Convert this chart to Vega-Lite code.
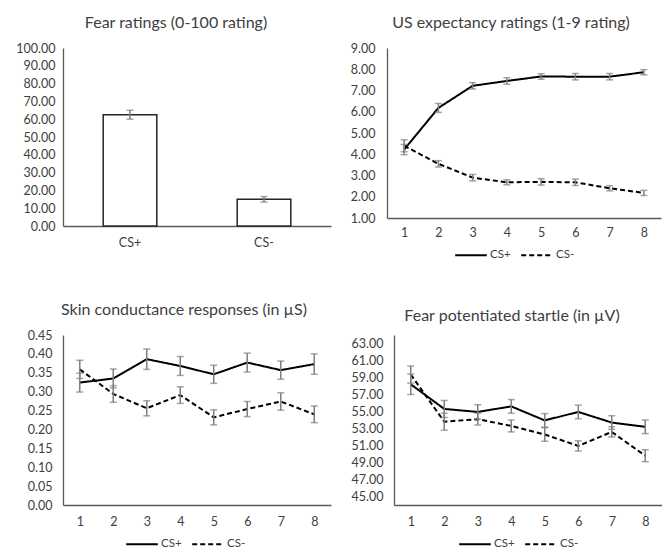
{
  "$schema": "https://vega.github.io/schema/vega-lite/v6.json",
  "background": "white",
  "padding": {"left": 0, "top": 15, "right": 0, "bottom": 0},
  "config": {
    "font": "Lato",
    "view": {"stroke": null},
    "title": {"fontSize": 16, "fontWeight": "normal", "color": "#404040", "offset": 11},
    "axis": {"labelFont": "Lato", "labelFontSize": 12.5, "labelColor": "#404040", "domainColor": "#595959", "domainWidth": 1.3, "ticks": false, "grid": false, "title": null, "labelOverlap": false, "labelFlush": false},
    "legend": {"labelFont": "Lato", "labelFontSize": 11.5, "labelColor": "#404040"}
  },
  "vconcat": [
    {
      "hconcat": [
        {
          "width": 268, "height": 178,
          "title": {"text": "Fear ratings (0-100 rating)", "dx": -21},
          "data": {"values": [
            {"stimulus": "CS+", "mean": 62.5, "lo": 60.0, "hi": 65.0},
            {"stimulus": "CS-", "mean": 15.0, "lo": 13.5, "hi": 16.5}
          ]},
          "encoding": {"x": {"field": "stimulus", "type": "nominal", "sort": null, "scale": {"paddingInner": 0.6, "paddingOuter": 0.3}, "axis": {"labelAngle": 0, "labelPadding": 10, "title": null}}},
          "layer": [
            {"mark": {"type": "bar", "fill": "white", "stroke": "#262626", "strokeWidth": 1.5},
             "encoding": {"y": {"field": "mean", "type": "quantitative", "scale": {"domain": [0, 100]}, "axis": {"title": null, "values": [0, 10, 20, 30, 40, 50, 60, 70, 80, 90, 100], "tickCount": 50, "format": ".2f", "labelPadding": 8, "minExtent": 63, "maxExtent": 63}}}},
            {"mark": {"type": "errorbar", "color": "#7f7f7f", "thickness": 1.5, "ticks": {"size": 7}},
             "encoding": {"y": {"field": "lo", "type": "quantitative", "title": null}, "y2": {"field": "hi"}}}
          ]
        },
        {
          "width": 274, "height": 170,
          "title": {"text": "US expectancy ratings (1-9 rating)", "dx": -13},
          "data": {"values": [
            {"trial": 1, "cs": "CS+", "mean": 4.22, "lo": 3.98, "hi": 4.46},
            {"trial": 2, "cs": "CS+", "mean": 6.18, "lo": 5.97, "hi": 6.39},
            {"trial": 3, "cs": "CS+", "mean": 7.22, "lo": 7.07, "hi": 7.37},
            {"trial": 4, "cs": "CS+", "mean": 7.45, "lo": 7.3, "hi": 7.6},
            {"trial": 5, "cs": "CS+", "mean": 7.66, "lo": 7.53, "hi": 7.79},
            {"trial": 6, "cs": "CS+", "mean": 7.65, "lo": 7.5, "hi": 7.8},
            {"trial": 7, "cs": "CS+", "mean": 7.65, "lo": 7.5, "hi": 7.8},
            {"trial": 8, "cs": "CS+", "mean": 7.86, "lo": 7.74, "hi": 7.98},
            {"trial": 1, "cs": "CS-", "mean": 4.4, "lo": 4.12, "hi": 4.68},
            {"trial": 2, "cs": "CS-", "mean": 3.55, "lo": 3.4, "hi": 3.7},
            {"trial": 3, "cs": "CS-", "mean": 2.9, "lo": 2.75, "hi": 3.05},
            {"trial": 4, "cs": "CS-", "mean": 2.68, "lo": 2.56, "hi": 2.8},
            {"trial": 5, "cs": "CS-", "mean": 2.7, "lo": 2.55, "hi": 2.85},
            {"trial": 6, "cs": "CS-", "mean": 2.68, "lo": 2.53, "hi": 2.83},
            {"trial": 7, "cs": "CS-", "mean": 2.4, "lo": 2.28, "hi": 2.52},
            {"trial": 8, "cs": "CS-", "mean": 2.18, "lo": 2.06, "hi": 2.3}
          ]},
          "encoding": {"x": {"field": "trial", "type": "ordinal", "scale": {"type": "point", "padding": 0.5}, "axis": {"labelAngle": 0, "labelPadding": 8, "title": null}}},
          "layer": [
            {"mark": {"type": "line", "color": "black", "strokeWidth": 2},
             "encoding": {
               "y": {"field": "mean", "type": "quantitative", "scale": {"domain": [1, 9]}, "axis": {"title": null, "values": [1, 2, 3, 4, 5, 6, 7, 8, 9], "tickCount": 50, "format": ".2f", "labelPadding": 12, "minExtent": 42, "maxExtent": 42}},
               "strokeDash": {"field": "cs", "type": "nominal", "scale": {"domain": ["CS+", "CS-"], "range": [[1, 0], [5, 3]]},
                 "legend": {"title": null, "orient": "none", "legendX": 67, "legendY": 190, "direction": "horizontal", "symbolType": "stroke", "symbolStrokeColor": "black", "symbolStrokeWidth": 2, "symbolSize": 1000, "labelOffset": 2, "columnPadding": 6}}}},
            {"mark": {"type": "errorbar", "color": "#7f7f7f", "thickness": 1.5, "ticks": {"size": 7}},
             "encoding": {"y": {"field": "lo", "type": "quantitative", "title": null}, "y2": {"field": "hi"}, "detail": {"field": "cs"}}}
          ]
        }
      ],
      "spacing": 14,
      "align": "none",
      "resolve": {"scale": {"strokeDash": "independent"}, "legend": {"strokeDash": "independent"}}
    },
    {
      "hconcat": [
        {
          "width": 268, "height": 170,
          "title": {"text": "Skin conductance responses (in µS)", "dx": -13},
          "data": {"values": [
            {"trial": 1, "cs": "CS+", "mean": 0.324, "lo": 0.299, "hi": 0.349},
            {"trial": 2, "cs": "CS+", "mean": 0.335, "lo": 0.31, "hi": 0.36},
            {"trial": 3, "cs": "CS+", "mean": 0.386, "lo": 0.359, "hi": 0.413},
            {"trial": 4, "cs": "CS+", "mean": 0.368, "lo": 0.343, "hi": 0.393},
            {"trial": 5, "cs": "CS+", "mean": 0.346, "lo": 0.322, "hi": 0.37},
            {"trial": 6, "cs": "CS+", "mean": 0.377, "lo": 0.352, "hi": 0.402},
            {"trial": 7, "cs": "CS+", "mean": 0.357, "lo": 0.333, "hi": 0.381},
            {"trial": 8, "cs": "CS+", "mean": 0.373, "lo": 0.346, "hi": 0.4},
            {"trial": 1, "cs": "CS-", "mean": 0.359, "lo": 0.335, "hi": 0.383},
            {"trial": 2, "cs": "CS-", "mean": 0.294, "lo": 0.272, "hi": 0.316},
            {"trial": 3, "cs": "CS-", "mean": 0.256, "lo": 0.236, "hi": 0.276},
            {"trial": 4, "cs": "CS-", "mean": 0.291, "lo": 0.269, "hi": 0.313},
            {"trial": 5, "cs": "CS-", "mean": 0.232, "lo": 0.212, "hi": 0.252},
            {"trial": 6, "cs": "CS-", "mean": 0.254, "lo": 0.234, "hi": 0.274},
            {"trial": 7, "cs": "CS-", "mean": 0.274, "lo": 0.251, "hi": 0.297},
            {"trial": 8, "cs": "CS-", "mean": 0.24, "lo": 0.218, "hi": 0.262}
          ]},
          "encoding": {"x": {"field": "trial", "type": "ordinal", "scale": {"type": "point", "padding": 0.5}, "axis": {"labelAngle": 0, "labelPadding": 10, "title": null}}},
          "layer": [
            {"mark": {"type": "line", "color": "black", "strokeWidth": 2},
             "encoding": {
               "y": {"field": "mean", "type": "quantitative", "scale": {"domain": [0, 0.45]}, "axis": {"title": null, "values": [0, 0.05, 0.1, 0.15, 0.2, 0.25, 0.3, 0.35, 0.4, 0.45], "tickCount": 50, "format": ".2f", "labelPadding": 11, "minExtent": 50, "maxExtent": 50}},
               "strokeDash": {"field": "cs", "type": "nominal", "scale": {"domain": ["CS+", "CS-"], "range": [[1, 0], [5, 3]]},
                 "legend": {"title": null, "orient": "none", "legendX": 62, "legendY": 192, "direction": "horizontal", "symbolType": "stroke", "symbolStrokeColor": "black", "symbolStrokeWidth": 2, "symbolSize": 1000, "labelOffset": 2, "columnPadding": 6}}}},
            {"mark": {"type": "errorbar", "color": "#7f7f7f", "thickness": 1.5, "ticks": {"size": 7}},
             "encoding": {"y": {"field": "lo", "type": "quantitative", "title": null}, "y2": {"field": "hi"}, "detail": {"field": "cs"}}}
          ]
        },
        {
          "width": 268, "height": 170,
          "title": {"text": "Fear potentiated startle (in µV)", "dx": -16},
          "data": {"values": [
            {"trial": 1, "cs": "CS+", "mean": 58.2, "lo": 57.0, "hi": 59.4},
            {"trial": 2, "cs": "CS+", "mean": 55.3, "lo": 54.3, "hi": 56.3},
            {"trial": 3, "cs": "CS+", "mean": 54.95, "lo": 54.1, "hi": 55.8},
            {"trial": 4, "cs": "CS+", "mean": 55.6, "lo": 54.8, "hi": 56.4},
            {"trial": 5, "cs": "CS+", "mean": 53.95, "lo": 53.15, "hi": 54.75},
            {"trial": 6, "cs": "CS+", "mean": 54.95, "lo": 54.15, "hi": 55.75},
            {"trial": 7, "cs": "CS+", "mean": 53.7, "lo": 52.9, "hi": 54.5},
            {"trial": 8, "cs": "CS+", "mean": 53.2, "lo": 52.4, "hi": 54.0},
            {"trial": 1, "cs": "CS-", "mean": 59.35, "lo": 58.35, "hi": 60.35},
            {"trial": 2, "cs": "CS-", "mean": 53.8, "lo": 52.8, "hi": 54.8},
            {"trial": 3, "cs": "CS-", "mean": 54.1, "lo": 53.4, "hi": 54.8},
            {"trial": 4, "cs": "CS-", "mean": 53.3, "lo": 52.6, "hi": 54.0},
            {"trial": 5, "cs": "CS-", "mean": 52.3, "lo": 51.5, "hi": 53.1},
            {"trial": 6, "cs": "CS-", "mean": 50.95, "lo": 50.35, "hi": 51.55},
            {"trial": 7, "cs": "CS-", "mean": 52.6, "lo": 52.0, "hi": 53.2},
            {"trial": 8, "cs": "CS-", "mean": 49.8, "lo": 49.1, "hi": 50.5}
          ]},
          "encoding": {"x": {"field": "trial", "type": "ordinal", "scale": {"type": "point", "padding": 0.5}, "axis": {"labelAngle": 0, "labelPadding": 10, "title": null}}},
          "layer": [
            {"mark": {"type": "line", "color": "black", "strokeWidth": 2},
             "encoding": {
               "y": {"field": "mean", "type": "quantitative", "scale": {"domain": [45, 63]}, "axis": {"title": null, "values": [45, 47, 49, 51, 53, 55, 57, 59, 61, 63], "tickCount": 50, "format": ".2f", "labelPadding": 11, "minExtent": 45, "maxExtent": 45}},
               "strokeDash": {"field": "cs", "type": "nominal", "scale": {"domain": ["CS+", "CS-"], "range": [[1, 0], [5, 3]]},
                 "legend": {"title": null, "orient": "none", "legendX": 64, "legendY": 192, "direction": "horizontal", "symbolType": "stroke", "symbolStrokeColor": "black", "symbolStrokeWidth": 2, "symbolSize": 1000, "labelOffset": 2, "columnPadding": 6}}}},
            {"mark": {"type": "errorbar", "color": "#7f7f7f", "thickness": 1.5, "ticks": {"size": 7}},
             "encoding": {"y": {"field": "lo", "type": "quantitative", "title": null}, "y2": {"field": "hi"}, "detail": {"field": "cs"}}}
          ]
        }
      ],
      "spacing": 18,
      "align": "none",
      "resolve": {"scale": {"strokeDash": "independent"}, "legend": {"strokeDash": "independent"}}
    }
  ],
  "spacing": 41,
  "align": "none",
  "resolve": {"scale": {"strokeDash": "independent"}, "legend": {"strokeDash": "independent"}}
}
